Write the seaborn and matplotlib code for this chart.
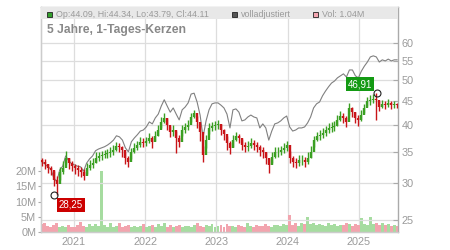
import numpy as np
import pandas as pd
import matplotlib
matplotlib.use("Agg")
import matplotlib.pyplot as plt
from matplotlib.patches import Rectangle
from matplotlib.ticker import NullLocator
import seaborn as sns

# ---------------- data ----------------
close = [33.3, 33.0, 32.3, 32.0, 30.5, 29.9, 31.7, 32.3, 34.0, 33.1,
         32.6, 32.3, 32.0, 31.7, 31.1, 32.3, 32.8, 33.1, 34.0, 34.3,
         34.5, 34.6, 34.8, 35.0, 35.3, 36.0, 35.9, 35.3, 34.0, 33.3,
         35.0, 35.7, 36.2, 36.8, 36.6, 36.9, 37.5, 36.8, 37.9, 39.0,
         40.6, 41.4, 40.0, 38.6, 39.0, 37.5, 36.8, 39.0, 39.6, 40.0,
         41.6, 42.4, 40.6, 38.6, 34.5, 37.1, 39.4, 39.8, 40.0, 40.2,
         39.0, 38.2, 36.6, 35.7, 37.1, 37.9, 37.5, 36.2, 35.9, 36.0,
         36.6, 36.2, 35.9, 35.3, 35.0, 34.0, 32.8, 34.1, 35.0, 35.0,
         35.3, 35.7, 36.2, 34.0, 33.3, 33.1, 33.6, 33.6, 33.3, 34.0,
         35.0, 37.1, 37.9, 38.1, 38.4, 39.0, 39.4, 39.6, 39.8, 41.0,
         41.8, 41.4, 40.6, 43.5, 42.6, 41.4, 41.0, 42.0, 43.5, 45.0,
         45.3, 45.5, 45.3, 43.7, 44.4, 44.1, 44.6, 44.1, 44.4, 44.11]
first_open = 33.6

high = [34.0, 33.8, 33.0, 32.6, 31.8, 31.0, 32.4, 33.4, 35.2, 34.0,
        33.5, 33.0, 32.8, 32.5, 32.2, 33.2, 33.6, 33.9, 34.9, 35.0,
        35.2, 35.4, 35.5, 35.8, 36.2, 36.8, 36.6, 36.1, 35.0, 34.3,
        35.7, 36.5, 37.0, 37.6, 37.5, 37.7, 38.4, 37.9, 38.8, 39.9,
        41.5, 42.4, 41.3, 39.8, 39.9, 38.8, 38.0, 39.9, 40.4, 41.0,
        42.5, 43.0, 41.8, 40.0, 36.0, 38.0, 40.3, 40.6, 40.8, 41.0,
        40.2, 39.2, 37.8, 36.9, 38.0, 38.7, 38.3, 37.3, 36.8, 37.0,
        37.4, 37.1, 36.7, 36.2, 35.9, 35.0, 34.0, 35.0, 35.8, 35.9,
        36.1, 36.6, 37.0, 35.2, 34.3, 34.0, 34.4, 34.5, 34.2, 34.9,
        36.0, 37.9, 38.7, 39.0, 39.3, 39.8, 40.3, 40.5, 40.8, 42.0,
        42.8, 42.4, 41.8, 44.6, 43.8, 42.6, 42.0, 43.0, 44.4, 45.9,
        46.3, 46.5, 46.91, 45.0, 45.3, 45.0, 45.4, 45.0, 45.1, 44.6]

low = [32.6, 32.2, 31.6, 31.2, 29.6, 28.25, 30.4, 31.4, 32.9, 32.2,
       31.9, 31.4, 31.0, 30.9, 30.4, 31.3, 32.0, 32.3, 33.1, 33.4,
       33.7, 33.9, 34.0, 34.2, 34.5, 35.1, 35.0, 34.2, 33.0, 32.5,
       33.8, 34.8, 35.4, 35.9, 35.8, 36.0, 36.5, 35.6, 36.9, 37.8,
       39.4, 40.4, 39.0, 37.6, 37.9, 34.8, 35.8, 37.8, 38.5, 39.0,
       40.6, 41.3, 39.4, 37.0, 33.3, 35.6, 38.2, 38.8, 39.0, 39.2,
       38.0, 37.2, 35.4, 34.6, 35.8, 36.9, 36.5, 35.3, 35.0, 35.1,
       35.6, 35.3, 35.0, 34.3, 33.9, 33.0, 31.5, 33.1, 34.0, 34.2,
       34.4, 34.8, 35.2, 33.1, 32.5, 32.3, 32.7, 32.8, 32.4, 33.0,
       34.0, 35.9, 36.9, 37.1, 37.4, 37.9, 38.4, 38.6, 38.8, 39.8,
       40.7, 40.4, 39.6, 42.0, 41.5, 40.3, 39.8, 40.8, 42.4, 43.9,
       44.2, 44.5, 41.0, 42.8, 43.4, 43.2, 43.6, 43.2, 43.5, 43.5]

adjusted = [33.3, 33.0, 32.5, 32.2, 30.8, 30.2, 32.0, 32.6, 34.3, 33.5,
            33.0, 32.8, 32.6, 32.5, 31.8, 33.1, 33.8, 34.3, 35.2, 35.5,
            35.7, 35.9, 36.2, 36.6, 37.1, 37.9, 37.7, 37.1, 35.7, 35.0,
            36.8, 37.5, 38.1, 38.8, 39.0, 39.6, 40.6, 40.2, 41.4, 42.2,
            43.9, 45.3, 43.9, 42.6, 43.5, 42.2, 41.0, 43.1, 43.7, 44.6,
            46.6, 46.8, 44.8, 42.0, 37.7, 40.8, 43.1, 44.4, 44.6, 44.6,
            44.1, 43.5, 42.2, 39.4, 43.1, 43.3, 42.6, 40.8, 41.0, 41.6,
            42.0, 41.6, 41.4, 39.4, 40.2, 39.4, 37.1, 38.8, 40.2, 40.4,
            40.8, 41.4, 41.8, 39.6, 38.8, 39.0, 39.4, 39.4, 39.6, 40.4,
            41.6, 43.5, 44.4, 44.8, 46.2, 47.3, 48.3, 49.2, 49.7, 50.5,
            51.0, 51.5, 50.7, 52.5, 52.5, 51.0, 50.5, 52.2, 53.5, 54.6,
            56.0, 56.3, 56.0, 54.6, 55.2, 54.9, 55.4, 54.9, 55.2, 55.2]

volume_m = [2.5, 3.0, 2.0, 1.8, 2.2, 2.8, 1.5, 2.0, 1.6, 2.4,
            1.8, 1.5, 2.2, 3.2, 2.0, 1.7, 2.5, 1.9, 2.6, 2.0,
            20.0, 2.2, 1.8, 2.8, 1.6, 2.0, 3.0, 1.7, 2.1, 2.4,
            1.8, 2.0, 1.5, 1.9, 2.6, 1.7, 2.0, 2.3, 1.6, 2.5,
            2.0, 2.8, 1.8, 2.2, 1.6, 2.0, 2.4, 1.7, 1.9, 2.1,
            1.8, 2.3, 3.0, 2.0, 1.7, 2.2, 1.9, 2.5, 1.6, 2.0,
            2.2, 1.8, 2.6, 1.9, 2.1, 1.7, 2.4, 2.0, 1.8, 2.9,
            2.0, 1.7, 2.3, 2.1, 1.9, 2.6, 2.0, 1.8, 2.4, 2.2,
            2.0, 2.6, 2.3, 5.5, 2.4, 2.8, 2.1, 2.9, 2.5, 5.0,
            2.6, 3.0, 2.2, 2.7, 2.4, 2.0, 2.8, 2.3, 2.5, 2.1,
            2.4, 2.2, 2.9, 2.5, 2.0, 2.6, 2.3, 4.5, 2.7, 2.4,
            4.8, 2.6, 3.0, 2.4, 2.8, 2.2, 2.5, 2.0, 2.4, 1.9]

year_labels = ["2021", "2022", "2023", "2024", "2025"]
price_ticks = [25, 30, 35, 40, 45, 50, 55, 60]
vol_ticks = [0, 5, 10, 15, 20]

low_value, low_date = 28.25, "2020-09-21"
high_value, high_date = 46.91, "2025-04-03"

title_text = "5 Jahre, 1-Tages-Kerzen"
legend_ohlc = "Op:44.09, Hi:44.34, Lo:43.79, Cl:44.11"
legend_adj = "volladjustiert"
legend_vol = "Vol: 1.04M"

# ---------------- styling ----------------
sns.set_theme(style="white")
plt.rcParams['font.family'] = ['Liberation Sans', 'DejaVu Sans']

GREEN = "#3a9f22"
RED = "#c81418"
VOL_UP = "#a6dca0"
VOL_DOWN = "#f2a4ae"
TXT = "#9a9a9a"
GRID = "#dddddd"

dates = pd.date_range("2020-07-20", "2025-07-16", periods=len(close))
df = pd.DataFrame({"date": dates, "close": close, "high": high, "low": low,
                   "adjusted": adjusted, "volume": volume_m})
df["open"] = [first_open] + close[:-1]
df["up"] = df["close"] >= df["open"]

W, H = 450, 250
fig = plt.figure(figsize=(W / 100, H / 100), dpi=100)
fig.patch.set_facecolor("white")

L, R, T, B = 41, 398, 7, 232
# header band
fig.patches.append(Rectangle((L / W, 1 - 18.5 / H), (R - L) / W, 11.5 / H,
                             transform=fig.transFigure, facecolor="#e8e8e8",
                             edgecolor="none", zorder=0))

ax_vol = fig.add_axes([L / W, 1 - B / H, (R - L) / W, (B - T) / H])
ax_vol.set_facecolor("none")
ax_price = ax_vol.twinx()
ax_price.set_facecolor("none")

# volume bars
vcolors = [VOL_UP if u else VOL_DOWN for u in df["up"]]
ax_vol.bar(df["date"], df["volume"], width=15, color=vcolors, linewidth=0)
ax_vol.set_ylim(0, 73.8)
ax_vol.set_yticks(vol_ticks)
ax_vol.set_yticklabels([f"{v}M" for v in vol_ticks])

# adjusted line
sns.lineplot(data=df, x="date", y="adjusted", ax=ax_price, color="#808080",
             linewidth=0.8, zorder=3)

# candles: wick range + body
ccolors = [GREEN if u else RED for u in df["up"]]
ax_price.vlines(df["date"], df["low"], df["high"], colors=ccolors,
                linewidth=1.0, zorder=4)
lo = np.minimum(df["open"], df["close"])
hi = np.maximum(df["open"], df["close"])
ax_price.vlines(df["date"], lo, hi, colors=ccolors, linewidth=1.7, zorder=4)

ax_price.set_yscale("log")
ax_price.set_ylim(23.54, 71.7)
ax_price.set_yticks(price_ticks)
ax_price.set_yticklabels([str(p) for p in price_ticks])
ax_price.yaxis.set_minor_locator(NullLocator())
ax_price.set_xlabel("")
ax_price.set_ylabel("")
ax_vol.set_xlabel("")
ax_vol.set_ylabel("")

xt = pd.to_datetime([f"{y}-01-01" for y in year_labels])
ax_vol.set_xticks(xt)
ax_vol.set_xticklabels(year_labels)
ax_vol.set_xlim(pd.Timestamp("2020-07-16"), pd.Timestamp("2025-07-20"))

# grids
ax_vol.grid(True, axis="x", color=GRID, linewidth=0.9)
ax_vol.set_axisbelow(True)
ax_price.grid(True, axis="y", color=GRID, linewidth=0.9, zorder=0)
ax_price.set_axisbelow(True)

# ticks
ax_price.tick_params(axis="y", which="major", direction="in", length=3.5,
                     width=0.8, color="#aaaaaa", labelcolor=TXT,
                     labelsize=7.8, pad=2.5, right=True, left=False)
ax_vol.tick_params(axis="y", direction="out", length=2.5, width=0.8,
                   color="#aaaaaa", labelcolor=TXT, labelsize=7.8, pad=1,
                   left=True)
ax_vol.tick_params(axis="x", length=0, labelcolor=TXT, labelsize=7.8, pad=3.5)

for ax in (ax_vol, ax_price):
    for s in ax.spines.values():
        s.set_color("#cccccc")
        s.set_linewidth(0.9)
ax_price.spines["right"].set_color("#aaaaaa")
ax_vol.spines["left"].set_color("#bbbbbb")

# min / max markers
for d, v, col, off in [(low_date, low_value, "#cc0000", (12, -7)),
                       (high_date, high_value, "#139a13", (-12, 6))]:
    dd = pd.Timestamp(d)
    ax_price.plot([dd], [v], marker="o", ms=5, mfc="none", mec="#222222",
                  mew=0.8, zorder=6)
    ax_price.annotate(f"{v:.2f}".replace(".", ","), xy=(dd, v),
                      xytext=off, textcoords="offset points",
                      ha="center", va="center", color="white", fontsize=7,
                      bbox=dict(boxstyle="square,pad=0.2", fc=col, ec="none"),
                      zorder=7)

# header legend
def px(x, y):
    return x / W, 1 - y / H

for (sx, col, ec, txt) in [(47, "#33a02c", "#222222", legend_ohlc),
                           (232, "#555555", "#222222", legend_adj),
                           (313, "#f4a6b0", "#222222", legend_vol)]:
    fx, fy = px(sx, 17)
    fig.patches.append(Rectangle((fx, fy), 5 / W, 5 / H,
                                 transform=fig.transFigure, facecolor=col,
                                 edgecolor=ec, linewidth=0.6, zorder=5))
    tx, ty = px(sx + 9, 14.5)
    fig.text(tx, ty, txt, fontsize=6.4, color=TXT, ha="left", va="center")

tx, ty = px(47, 30)
fig.text(tx, ty, title_text, fontsize=8.7, fontweight="bold", color="#888888",
         ha="left", va="center")

fig.savefig("out.png", dpi=100, facecolor="white")
